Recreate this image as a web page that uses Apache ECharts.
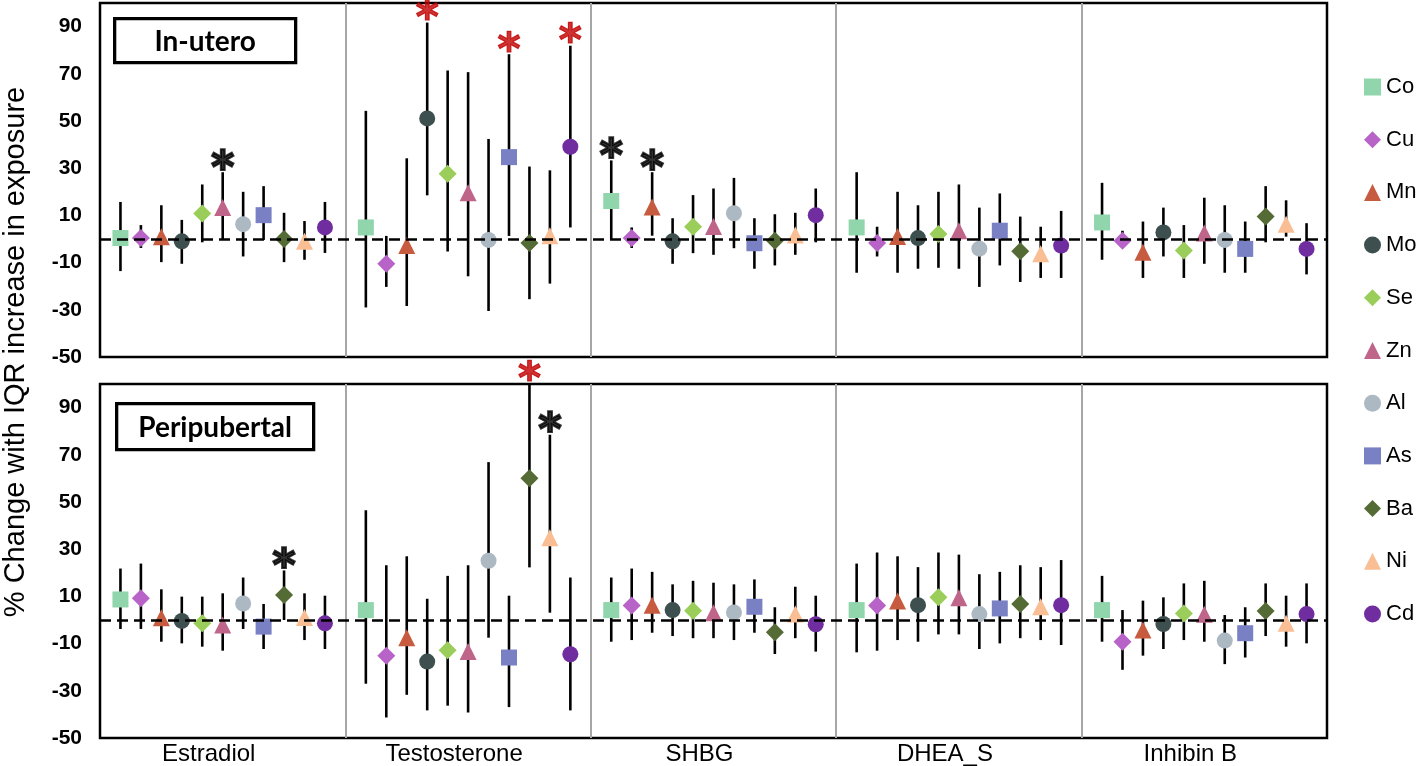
<!DOCTYPE html>
<html><head><meta charset="utf-8">
<script src="https://cdn.jsdelivr.net/npm/echarts@6/dist/echarts.min.js"></script>
<style>html,body{margin:0;padding:0;background:#fff}#c{width:1418px;height:766px}</style>
</head><body><div id="c"></div>
<script>
// ---------------- DATA ----------------
const hormones = ['Estradiol', 'Testosterone', 'SHBG', 'DHEA_S', 'Inhibin B'];
const metals = ['Co', 'Cu', 'Mn', 'Mo', 'Se', 'Zn', 'Al', 'As', 'Ba', 'Ni', 'Cd'];
const metalColors = ['#90D5AC', '#B863C8', '#C75B3F', '#3E4F4F', '#9ACD5A', '#C0658A', '#ADB9C2', '#7A80C4', '#556B35', '#F9BE94', '#6F2DA0'];
const metalSymbols = ['rect', 'diamond', 'triangle', 'circle', 'diamond', 'triangle', 'circle', 'rect', 'diamond', 'triangle', 'circle'];
const panelNames = ['In-utero', 'Peripubertal'];
const yTickLabels = [-50, -30, -10, 10, 30, 50, 70, 90];

// [estimate, lower CI, upper CI] per metal (order of `metals`)
const uteroEstradiol    = [[0.4,-13.6,15.7],[0.4,-3.8,5.9],[1.0,-9.8,14.3],[-1.0,-10.5,8.1],[10.8,-1.4,23.1],[13.3,0,28.3],[6.3,-7.4,20],[10.1,-0.4,22.4],[0,-9.8,11.1],[-1.0,-8.8,7.6],[4.9,-5.9,15.7]];
const uteroTestosterone = [[4.9,-29,54.3],[-10.5,-20.3,1.3],[-2.8,-28.4,34.2],[51.1,18.5,91.7],[27.6,-5.3,71.4],[19.6,-15.8,70.7],[-0.4,-30.5,42.4],[34.7,1.3,78.3],[-1.7,-25.5,30.7],[1.4,-18.9,29.1],[39.1,4.9,81.9]];
const uteroSHBG         = [[16.1,0,33.3],[0.4,-3.8,4.9],[13.6,1.4,28.3],[-1.0,-10.5,8.8],[5.2,-6,18.6],[5.3,-6.7,21.4],[10.9,-3.9,25.9],[-1.8,-12.6,8.8],[-0.7,-11.2,10.5],[1.7,-6.7,11.1],[10.1,-1.4,21.4]];
const uteroDHEAS        = [[4.9,-14.3,28.3],[-1.7,-7.4,5.2],[1.1,-14.3,20],[0.4,-12.6,14.3],[2.1,-12.2,20],[3.5,-12.6,23.1],[-4.1,-20.3,13.3],[3.5,-11.2,19.3],[-5.2,-18.2,9.5],[-6.3,-16.5,5.2],[-2.8,-16.5,11.9]];
const uteroInhibinB     = [[7.0,-8.8,23.8],[-0.7,-2.1,3.5],[-5.6,-16.5,7.4],[2.8,-7.4,13.3],[-4.9,-16.5,5.9],[2.5,-10.5,17.5],[-0.4,-14.3,14.3],[-4.2,-14.3,7.4],[9.5,-1.4,22.4],[6.3,1.0,16.4],[-4.2,-15,6.7]];

const periEstradiol     = [[8.7,-3.8,21.8],[9.2,-3.8,23.9],[1.0,-9.2,13],[-0.4,-9.9,9.9],[-1.4,-11.3,9.9],[-2.1,-13,11.3],[7.0,-3.8,18],[-2.8,-12.3,6.8],[10.6,0,21],[1.1,-8.5,11.3],[-1.4,-12.3,10.3]];
const periTestosterone  = [[4.2,-27,46.5],[-15.1,-41.3,23.2],[-7.5,-31.7,27],[-17.6,-38.3,9],[-12.8,-36.3,18.7],[-13.4,-39.2,23.2],[25.1,-7.5,66.9],[-15.9,-36.9,10.3],[60.1,22.3,100],[34.8,3.1,78.5],[-14.5,-38.3,18]];
const periSHBG          = [[4.2,-9.2,18],[6.1,-8.5,21.8],[6.3,-5.4,20.4],[4.2,-6.8,15.1],[3.9,-7.7,16.6],[3.1,-7.7,15.8],[3.2,-8.5,15.1],[5.6,-5.4,17.2],[-5.2,-14.4,5.4],[2.5,-7.7,14.1],[-1.8,-13.4,10.3]];
const periDHEAS         = [[4.2,-13.7,23.9],[6.1,-13,28.6],[8.0,-8.5,27],[6.3,-9.2,22.4],[9.6,-6.1,28.6],[9.4,-6.1,27.7],[2.5,-12.3,19.4],[4.9,-9.9,20.4],[6.8,-7.7,23.2],[5.6,-8.5,22.4],[6.3,-10.6,25.4]];
const periInhibinB      = [[4.2,-9.2,18.7],[-9.2,-21.1,4.2],[-4.2,-15.1,8.2],[-1.7,-12.3,9.6],[2.8,-8.5,15.5],[2.4,-9.2,16.6],[-8.7,-18.7,2.1],[-5.6,-15.9,5.4],[3.8,-6.8,15.5],[-1.4,-11.3,10.3],[2.5,-9.9,15.5]];

// significance marks: [hormone, metal, colour]
const uteroSignificant = [['Estradiol','Zn','#000000'],['Testosterone','Mo','#C00000'],['Testosterone','As','#C00000'],['Testosterone','Cd','#C00000'],['SHBG','Co','#000000'],['SHBG','Mn','#000000']];
const periSignificant  = [['Estradiol','Ba','#000000'],['Testosterone','Ba','#C00000'],['Testosterone','Ni','#000000']];

// ---------------- BUILD ----------------
const panels = [
  [uteroEstradiol, uteroTestosterone, uteroSHBG, uteroDHEAS, uteroInhibinB],
  [periEstradiol, periTestosterone, periSHBG, periDHEAS, periInhibinB]
];
const significant = [uteroSignificant, periSignificant];
const slots = metals.length + 1; // 12 slots per hormone group
const xPos = (h, m) => h * slots + m + 1;
const symbolSizes = { rect: 16, diamond: 18, triangle: 17, circle: 16 };

const series = [];
panels.forEach((panel, p) => {
  const bars = [];
  panel.forEach((rows, h) => rows.forEach((r, m) => bars.push([xPos(h, m), r[1], r[2]])));
  series.push({
    type: 'custom', xAxisIndex: p, yAxisIndex: p, z: 2, silent: true,
    encode: { x: 0, y: [1, 2] },
    data: bars,
    renderItem: (params, api) => {
      const a = api.coord([api.value(0), api.value(1)]);
      const b = api.coord([api.value(0), api.value(2)]);
      return { type: 'line', shape: { x1: a[0], y1: a[1], x2: b[0], y2: b[1] }, style: { stroke: '#000', lineWidth: 2.6 } };
    },
    markLine: {
      silent: true, symbol: 'none', label: { show: false },
      lineStyle: { color: '#000', width: 2.6, type: [11, 6] },
      data: [{ yAxis: 0 }]
    }
  });
  metals.forEach((metal, m) => {
    series.push({
      type: 'scatter', name: metal, xAxisIndex: p, yAxisIndex: p, z: 4,
      symbol: metalSymbols[m], symbolSize: symbolSizes[metalSymbols[m]],
      itemStyle: { color: metalColors[m], opacity: 1 },
      data: panel.map((rows, h) => [xPos(h, m), rows[m][0]])
    });
  });
  series.push({
    type: 'scatter', xAxisIndex: p, yAxisIndex: p, z: 6, symbolSize: 0, clip: false, silent: true,
    data: significant[p].map(s => {
      const h = hormones.indexOf(s[0]), m = metals.indexOf(s[1]);
      const black = s[2] === '#000000';
      return { value: [xPos(h, m), panel[h][m][2]],
        label: { color: s[2], textBorderColor: s[2], textBorderWidth: black ? 2.2 : 1.2 } };
    }),
    label: { show: true, position: 'inside', formatter: '*', offset: [0, -2],
      fontFamily: 'DejaVu Sans', fontWeight: 'bold', fontSize: 44 }
  });
});

const grids = [
  { left: 100, right: 91, top: 3, height: 354, show: true, borderColor: '#000', borderWidth: 2.5 },
  { left: 100, right: 91, top: 384, height: 356, show: true, borderColor: '#000', borderWidth: 2.5 }
];
const xMax = hormones.length * slots;
const xAxes = [0, 1].map(g => ({
  type: 'value', gridIndex: g, min: 0, max: xMax, interval: slots,
  axisLine: { show: false }, axisTick: { show: false }, axisLabel: { show: false },
  splitLine: { show: true, showMinLine: false, showMaxLine: false, lineStyle: { color: '#A6A6A6', width: 2 } }
}));
xAxes.push({
  type: 'category', gridIndex: 1, data: hormones, position: 'bottom',
  axisLine: { show: false }, axisTick: { show: false }, splitLine: { show: false },
  axisLabel: { color: '#000', fontSize: 24, fontFamily: 'Liberation Sans', margin: 4, padding: [0, 28, 0, 0] }
});
const yMin = yTickLabels[0];
const yAxes = [0, 1].map(g => ({
  type: 'value', gridIndex: g, min: yMin, max: 100, interval: yTickLabels[1] - yTickLabels[0],
  axisLine: { show: false }, axisTick: { show: false }, splitLine: { show: false },
  axisLabel: { showMaxLabel: false, color: '#000', fontSize: 21, fontWeight: 'bold', fontFamily: 'Liberation Sans', margin: 18,
    formatter: v => (yTickLabels.indexOf(v) >= 0 ? String(v) : '') }
}));

const boxes = [
  { left: 113, top: 17, w: 181, h: 44 },
  { left: 115, top: 402, w: 197, h: 46 }
];
const graphic = [];
panelNames.forEach((name, i) => {
  const b = boxes[i];
  graphic.push({
    type: 'group', left: b.left, top: b.top, z: 10,
    children: [
      { type: 'rect', shape: { x: 0, y: 0, width: b.w, height: b.h }, style: { fill: '#fff', stroke: '#000', lineWidth: 3.3 } },
      { type: 'text', x: b.w / 2, y: b.h / 2 + 1, style: { text: name, align: 'center', verticalAlign: 'middle', font: 'bold 28px Lato', fill: '#000' } }
    ]
  });
});
graphic.push({
  type: 'text', x: 16, y: 352, rotation: Math.PI / 2, z: 10,
  style: { text: '% Change with IQR increase in exposure', align: 'center', verticalAlign: 'middle', font: '29px "Liberation Sans"', fill: '#000' }
});

const chart = echarts.init(document.getElementById('c'), null, { renderer: 'canvas' });
chart.setOption({
  animation: false,
  backgroundColor: '#fff',
  grid: grids,
  xAxis: xAxes,
  yAxis: yAxes,
  legend: {
    data: metals, orient: 'vertical', left: 1359, top: 71,
    itemWidth: 17, itemHeight: 17, itemGap: 30.7, selectedMode: false,
    textStyle: { fontSize: 22, lineHeight: 21, color: '#000', fontFamily: 'Liberation Sans' }
  },
  graphic: graphic,
  series: series
});
</script></body></html>
